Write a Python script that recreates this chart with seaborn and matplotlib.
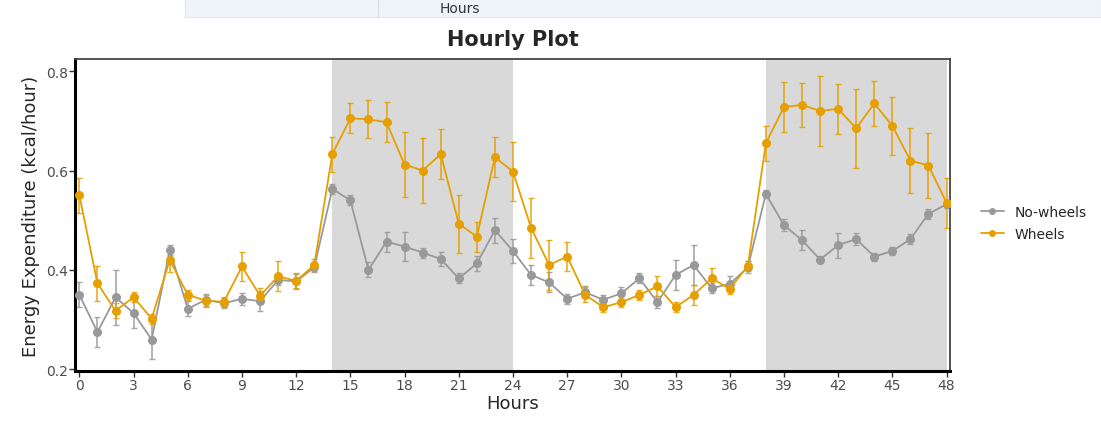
import numpy as np
import pandas as pd
import matplotlib
matplotlib.use("Agg")
import matplotlib.pyplot as plt
import seaborn as sns
from matplotlib.lines import Line2D
from matplotlib.patches import Rectangle

hours = list(range(49))
nowheels = [0.350, 0.275, 0.345, 0.313, 0.260, 0.440, 0.322, 0.340, 0.333, 0.342,
            0.337, 0.380, 0.377, 0.405, 0.563, 0.540, 0.400, 0.457, 0.447, 0.435,
            0.422, 0.383, 0.413, 0.480, 0.438, 0.390, 0.375, 0.342, 0.355, 0.340,
            0.353, 0.383, 0.335, 0.390, 0.410, 0.363, 0.372, 0.405, 0.553, 0.490,
            0.460, 0.421, 0.450, 0.462, 0.427, 0.438, 0.462, 0.513, 0.532]
nowheels_se = [0.025, 0.030, 0.055, 0.030, 0.040, 0.010, 0.015, 0.012, 0.010, 0.012,
               0.020, 0.010, 0.015, 0.010, 0.010, 0.010, 0.015, 0.020, 0.030, 0.010,
               0.015, 0.010, 0.015, 0.025, 0.025, 0.020, 0.020, 0.010, 0.012, 0.010,
               0.012, 0.010, 0.012, 0.030, 0.040, 0.010, 0.015, 0.012, 0.008, 0.012,
               0.020, 0.008, 0.025, 0.012, 0.008, 0.008, 0.010, 0.010, 0.008]
wheels = [0.550, 0.373, 0.318, 0.345, 0.302, 0.420, 0.350, 0.338, 0.336, 0.407,
          0.348, 0.387, 0.378, 0.410, 0.633, 0.705, 0.703, 0.697, 0.612, 0.600,
          0.633, 0.493, 0.467, 0.627, 0.598, 0.485, 0.410, 0.427, 0.350, 0.325,
          0.335, 0.350, 0.367, 0.325, 0.350, 0.383, 0.362, 0.408, 0.655, 0.728,
          0.732, 0.720, 0.724, 0.685, 0.735, 0.690, 0.620, 0.610, 0.535]
wheels_se = [0.035, 0.035, 0.015, 0.010, 0.010, 0.025, 0.010, 0.012, 0.010, 0.030,
             0.015, 0.030, 0.015, 0.012, 0.035, 0.030, 0.038, 0.040, 0.065, 0.065,
             0.050, 0.058, 0.030, 0.040, 0.060, 0.060, 0.050, 0.030, 0.015, 0.010,
             0.010, 0.010, 0.020, 0.010, 0.020, 0.020, 0.010, 0.010, 0.035, 0.050,
             0.045, 0.070, 0.050, 0.080, 0.045, 0.058, 0.065, 0.065, 0.050]
groups = ["No-wheels", "Wheels"]
dark_periods = [(14, 24), (38, 48)]
xticks = list(range(0, 49, 3))
yticks = [0.2, 0.4, 0.6, 0.8]

colors = {"No-wheels": "#999999", "Wheels": "#E69F00"}

df = pd.DataFrame({
    "Hours": hours * 2,
    "EE": nowheels + wheels,
    "se": nowheels_se + wheels_se,
    "Group": [groups[0]] * len(hours) + [groups[1]] * len(hours),
})

sns.set_theme(style="white")
plt.rcParams['font.family'] = ['DejaVu Sans']

fig = plt.figure(figsize=(11.01, 4.27), dpi=100)
ax = fig.add_axes([0.068, 0.128, 0.795, 0.731])

for a, b in dark_periods:
    ax.axvspan(a, b, color="#d9d9d9", lw=0, zorder=0)

for g in groups:
    sub = df[df["Group"] == g]
    ax.errorbar(sub["Hours"], sub["EE"], yerr=sub["se"], fmt="none",
                ecolor=colors[g], elinewidth=1.2, capsize=2, capthick=1.0,
                alpha=0.85, zorder=2)

sns.lineplot(data=df, x="Hours", y="EE", hue="Group", palette=colors,
             marker="o", markersize=6.5, markeredgewidth=0, linewidth=1.3,
             ax=ax, legend=False, zorder=3)

ax.set_xlim(-0.25, 48.2)
ax.set_ylim(0.196, 0.824)
ax.set_xticks(xticks)
ax.set_yticks(yticks)
ax.set_yticklabels([f"{v:.1f}" for v in yticks])
ax.tick_params(axis="both", which="major", direction="out", length=4, width=1,
               color="#333333", labelsize=10, labelcolor="#4d4d4d", pad=1,
               bottom=True, left=True)
for side in ["top", "right"]:
    ax.spines[side].set_color("#444444")
    ax.spines[side].set_linewidth(1.3)
for side in ["left", "bottom"]:
    ax.spines[side].set_color("black")
    ax.spines[side].set_linewidth(2.2)

ax.set_xlabel("Hours", fontsize=13, labelpad=1)
ax.set_ylabel("Energy Expenditure (kcal/hour)", fontsize=13, labelpad=4)
ax.set_title("Hourly Plot", fontsize=15, fontweight="bold", pad=10)

handles = [Line2D([0], [0], color=colors[g], marker="o", markersize=5,
                  markeredgewidth=0, lw=1.3) for g in groups]
fig.legend(handles, groups, loc="center left", bbox_to_anchor=(0.88, 0.475),
           frameon=False, fontsize=10, handlelength=1.6, labelspacing=0.6)

# screenshot artifact strip at the top
fig.patches.append(Rectangle((0.168, 0.958), 0.832, 0.042, transform=fig.transFigure,
                             facecolor="#eef4f9", edgecolor="#dde6ee", lw=0.8))
fig.add_artist(Line2D([0.343, 0.343], [0.958, 1.0], transform=fig.transFigure,
                      color="#d5dde5", lw=0.8))
fig.text(0.418, 0.979, "Hours", fontsize=10, color="#333333", ha="center", va="center")

fig.savefig("out.png", dpi=100)
